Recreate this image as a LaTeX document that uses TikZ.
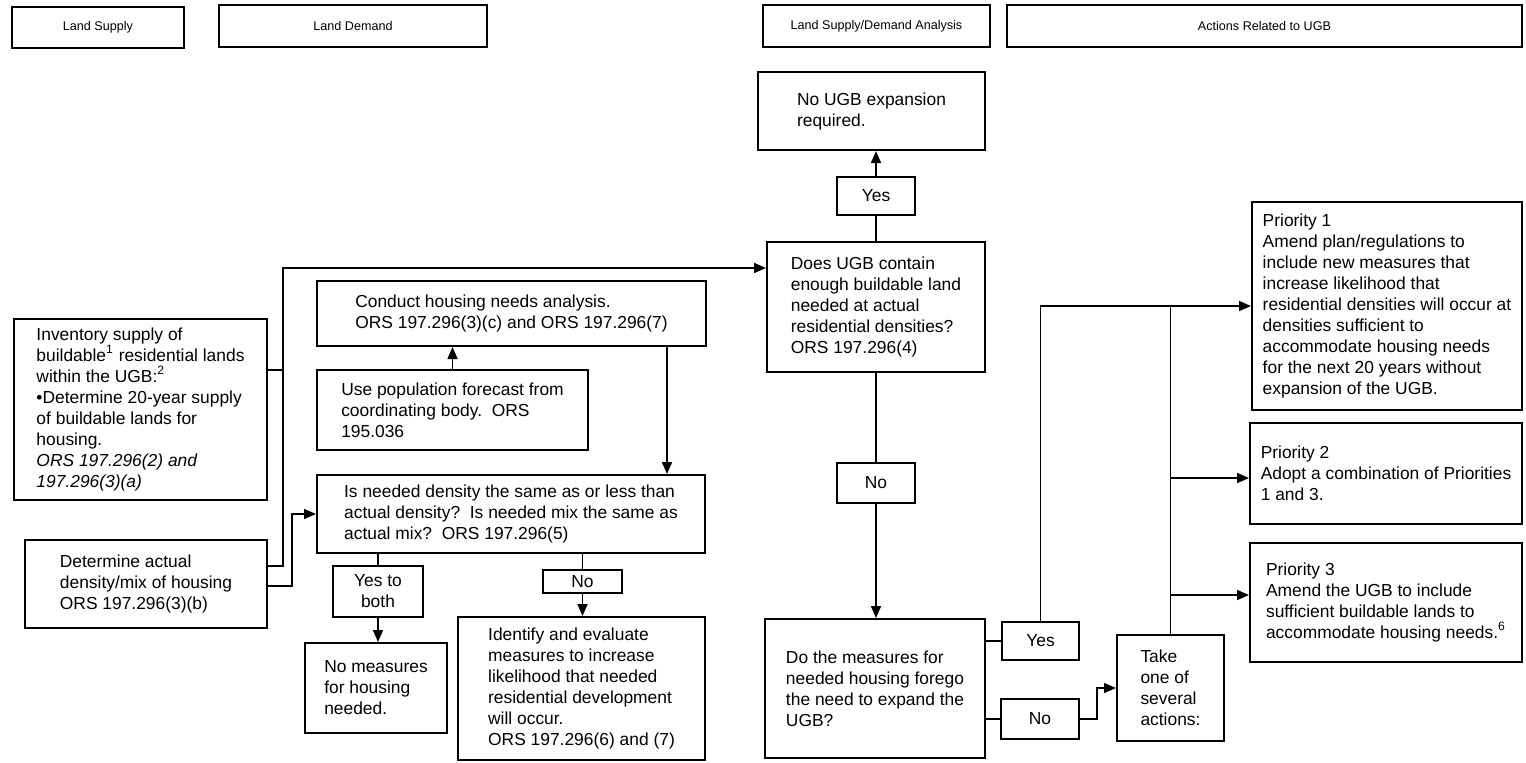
\documentclass[tikz,border=0pt]{standalone}
\usepackage{fontspec}
\setmainfont{Liberation Sans}
\usepackage{tikz}
\usetikzlibrary{arrows.meta}

\begin{document}
\begin{tikzpicture}[x=0.5pt, y=-0.5pt,
  box/.style={draw, line width=1pt, align=left, inner sep=0pt, font=\fontsize{8.7}{10.5}\selectfont},
  hdr/.style={draw, line width=1.3pt, inner sep=0pt, font=\fontsize{6.3}{7.5}\selectfont},
  lbl/.style={draw, line width=0.7pt, align=center, inner sep=0pt, font=\fontsize{8.7}{10.5}\selectfont},
  link/.style={line width=0.8pt},
  arr/.style={link, -{Triangle[length=6pt,width=5pt]}}]

\useasboundingbox (0,0) rectangle (1526,762);

% headers

\node[hdr, minimum width=86pt, minimum height=20.5pt] (hSupply) at (98,27.5) {Land Supply};
\node[hdr, minimum width=134pt, minimum height=21pt] (hDemand) at (353,26) {Land Demand};
\node[hdr, minimum width=113.5pt, minimum height=21pt] (hAnalysis) at (876.5,26) {Land Supply/Demand Analysis};
\node[hdr, minimum width=257.5pt, minimum height=21pt] (hActions) at (1264.5,26) {Actions Related to UGB};

% nodes

\node[box, minimum width=126.5pt, minimum height=90.5pt] (inventory) at (140.5,409.5) {Inventory supply of\\ buildable\textsuperscript{1} residential lands\\ within the UGB:\textsuperscript{2}\\ \textbullet Determine 20-year supply\\ of buildable lands for\\ housing.\\ \textit{ORS 197.296(2) and}\\ \textit{197.296(3)(a)}};
\node[box, minimum width=121pt, minimum height=44pt] (determine) at (146,584) {Determine actual\\ density/mix of housing\\ ORS 197.296(3)(b)};

\node[box, minimum width=194.5pt, minimum height=32.5pt] (conduct) at (511.5,313.5) {Conduct housing needs analysis.\\ ORS 197.296(3)(c) and ORS 197.296(7)};
\node[box, minimum width=135.5pt, minimum height=40pt] (usepop) at (452.5,410) {Use population forecast from\\ coordinating body.\ \ ORS\\ 195.036};
\node[box, minimum width=194pt, minimum height=39pt] (isneeded) at (511,514) {Is needed density the same as or less than\\ actual density?\ \ Is needed mix the same as\\ actual mix?\ \ ORS 197.296(5)};
\node[lbl, minimum width=45pt, minimum height=25.5pt] (yesboth) at (378,591.5) {Yes to\\ both};
\node[lbl, minimum width=39.5pt, minimum height=11.5pt] (noA) at (582.5,581.5) {No};
\node[box, minimum width=71pt, minimum height=45pt] (nomeasures) at (376,688) {No measures\\ for housing\\ needed.};
\node[box, minimum width=123.5pt, minimum height=71.5pt] (identify) at (581.5,688.5) {Identify and evaluate\\ measures to increase\\ likelihood that needed\\ residential development\\ will occur.\\ ORS 197.296(6) and (7)};

\node[box, minimum width=113.5pt, minimum height=39pt] (noexp) at (871.5,111) {No UGB expansion\\ required.};
\node[lbl, minimum width=39pt, minimum height=19pt] (yas) at (876,196) {Yes};
\node[box, minimum width=109pt, minimum height=65pt] (doesugb) at (876,307) {Does UGB contain\\ enough buildable land\\ needed at actual\\ residential densities?\\ ORS 197.296(4)};
\node[lbl, minimum width=39pt, minimum height=20pt] (noB) at (876,483) {No};
\node[box, minimum width=110pt, minimum height=69.5pt] (measures) at (875,688.5) {Do the measures for\\ needed housing forego\\ the need to expand the\\ UGB?};
\node[lbl, minimum width=38.5pt, minimum height=19pt] (yesC) at (1040.5,641) {Yes};
\node[lbl, minimum width=39pt, minimum height=20pt] (noC) at (1040,719) {No};

\node[box, minimum width=53.5pt, minimum height=53pt] (take) at (1170.5,688) {Take\\ one of\\ several\\ actions:};
\node[box, minimum width=135pt, minimum height=104pt] (p1) at (1387,306) {Priority 1\\ Amend plan/regulations to\\ include new measures that\\ increase likelihood that\\ residential densities will occur at\\ densities sufficient to\\ accommodate housing needs\\ for the next 20 years without\\ expansion of the UGB.};
\node[box, minimum width=136pt, minimum height=50.5pt] (p2) at (1386,473.5) {Priority 2\\ Adopt a combination of Priorities\\ 1 and 3.};
\node[box, minimum width=136pt, minimum height=59.5pt] (p3) at (1386,602.5) {Priority 3\\ Amend the UGB to include\\ sufficient buildable lands to\\ accommodate housing needs.\textsuperscript{6}};

%% bends
\coordinate (busTop) at (283,268);
\coordinate (busInv) at (283,370);
\coordinate (busBot) at (283,566);
\coordinate (detJog) at (292,586);
\coordinate (needDrop) at (667,346);
\coordinate (takeJog) at (1097,719);
\coordinate (p2in) at (1172,478);
\coordinate (p3in) at (1172,595);

%% lines
\draw[link] (inventory.east |- busInv) -- (busInv);
\draw[arr] (determine.east |- busBot) -- (busBot) -- (busTop) -- (doesugb.west |- busTop);
\draw[arr] (determine.east |- detJog) -- (detJog) |- (isneeded.west);
\draw[arr] (usepop.north) -- (usepop.north |- conduct.south);
\draw[arr] (conduct.south -| needDrop) -- (isneeded.north -| needDrop);
\draw[link] (isneeded.south -| yesboth.north) -- (yesboth.north);
\draw[arr] (yesboth.south) -- (yesboth.south |- nomeasures.north);
\draw[link] (isneeded.south -| noA.north) -- (noA.north);
\draw[arr] (noA.south) -- (noA.south |- identify.north);

\draw[link] (doesugb.north) -- (yas.south);
\draw[arr] (yas.north) -- (yas.north |- noexp.south);
\draw[link] (doesugb.south) -- (noB.north);
\draw[arr] (noB.south) -- (noB.south |- measures.north);
\draw[link] (measures.east |- yesC.west) -- (yesC.west);
\draw[link] (measures.east |- noC.west) -- (noC.west);

%% arrows to the priorities
\draw[arr] (yesC.north) |- (p1.west);
\draw[link] (take.north) -- (take.north |- p1.west);
\draw[arr] (take.north |- p2in) -- (p2in -| p2.west);
\draw[arr] (take.north |- p3in) -- (p3in -| p3.west);
\draw[arr] (noC.east) -- (takeJog) |- (take.west);

\end{tikzpicture}
\end{document}
